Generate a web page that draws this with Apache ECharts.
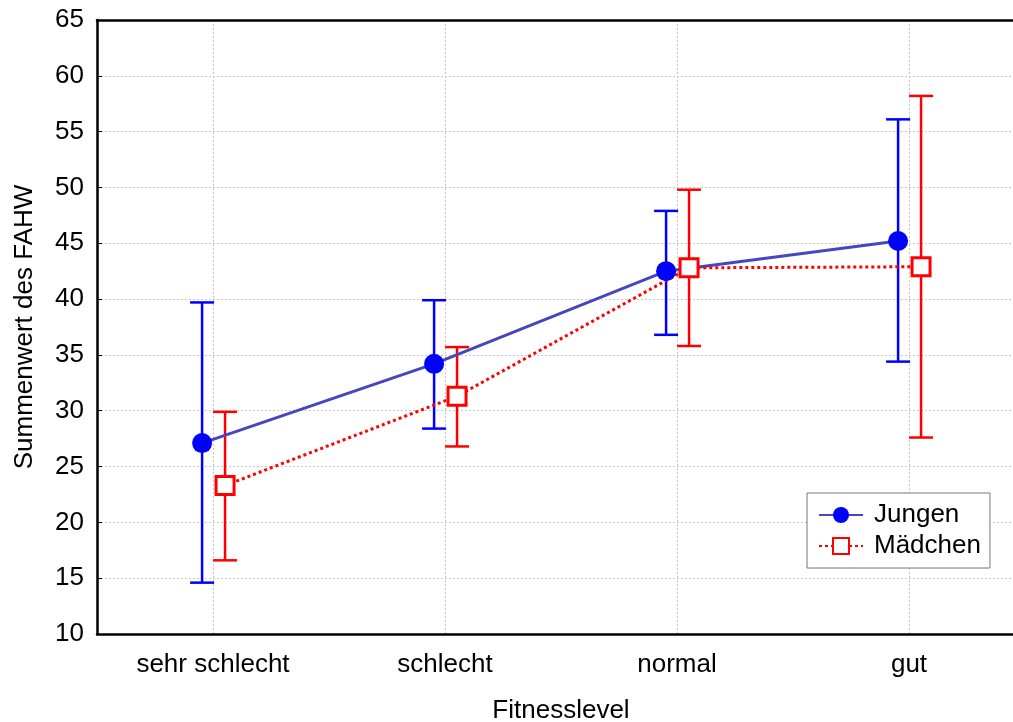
<!DOCTYPE html>
<html>
<head>
<meta charset="utf-8">
<script src="https://cdn.jsdelivr.net/npm/echarts@6/dist/echarts.min.js"></script>
<style>
    html, body { margin: 0; padding: 0; background: #fff; }
    #chart { width: 1013px; height: 722px; }
</style>
</head>
<body>
<div id="chart"></div>
<script>
    // Mittelwerte und Fehlerbalken
    const categories = ['sehr schlecht', 'schlecht', 'normal', 'gut']
    const jungenMean = [27.1, 34.2, 42.5, 45.2]
    const jungenLow = [14.6, 28.4, 36.8, 34.4]
    const jungenHigh = [39.7, 39.9, 47.9, 56.1]
    const maedchenMean = [23.3, 31.3, 42.8, 42.9]
    const maedchenLow = [16.6, 26.8, 35.8, 27.6]
    const maedchenHigh = [29.9, 35.7, 49.8, 58.2]
    const yTicks = [10, 15, 20, 25, 30, 35, 40, 45, 50, 55, 60, 65]

    const font = 'Liberation Sans, Arial, sans-serif'
    const jungenShift = -0.047
    const maedchenShift = 0.052

    function errorBar(color) {
        return function (params, api) {
            const x = api.value(0)
            const lo = api.coord([x, api.value(1)])
            const hi = api.coord([x, api.value(2)])
            const half = 12
            const style = { stroke: color, lineWidth: 2.5 }
            return {
                type: 'group',
                children: [
                    { type: 'line', shape: { x1: lo[0], y1: lo[1], x2: hi[0], y2: hi[1] }, style },
                    { type: 'line', shape: { x1: hi[0] - half, y1: hi[1], x2: hi[0] + half, y2: hi[1] }, style },
                    { type: 'line', shape: { x1: lo[0] - half, y1: lo[1], x2: lo[0] + half, y2: lo[1] }, style }
                ]
            }
        }
    }

    const chart = echarts.init(document.getElementById('chart'))
    chart.setOption({
        animation: false,
        textStyle: { fontFamily: font },
        // plot runs past the right edge of the picture
        grid: { left: 97, top: 20, width: 928, height: 614, outerBoundsMode: 'none' },
        legend: {
            orient: 'vertical',
            left: 807,
            top: 493,
            padding: [9, 9, 9, 11],
            itemGap: 5,
            itemWidth: 44,
            itemHeight: 20,
            borderColor: '#777',
            borderWidth: 1,
            backgroundColor: '#fff',
            textStyle: { fontSize: 26, color: '#000', fontFamily: font, padding: [0, 0, 0, 6] },
            data: ['Jungen', 'Mädchen']
        },
        xAxis: [{
            type: 'category',
            data: categories,
            name: 'Fitnesslevel',
            nameLocation: 'middle',
            nameGap: 64,
            nameTextStyle: { fontSize: 26, color: '#000' },
            axisLine: { lineStyle: { color: '#000', width: 2.5 } },
            axisTick: { inside: true, length: 5, alignWithLabel: true, lineStyle: { color: '#000' } },
            axisLabel: { fontSize: 26, color: '#000', margin: 18 },
            splitLine: {
                show: true,
                alignWithLabel: true,
                lineStyle: { color: '#c8c8c8', type: [2, 2], width: 1 }
            }
        }, {
            type: 'value',
            min: -0.5,
            max: 3.5,
            show: false
        }, {
            type: 'category',
            position: 'top',
            data: categories,
            axisLine: { lineStyle: { color: '#000', width: 2.5 } },
            axisTick: { inside: true, length: 5, alignWithLabel: true, lineStyle: { color: '#000' } },
            axisLabel: { show: false },
            splitLine: { show: false }
        }],
        yAxis: {
            type: 'value',
            min: yTicks[0],
            max: yTicks[yTicks.length - 1],
            interval: 5,
            name: 'Summenwert des FAHW',
            nameLocation: 'middle',
            nameGap: 59,
            nameTextStyle: { fontSize: 26, color: '#000' },
            axisLine: { show: true, onZero: false, lineStyle: { color: '#000', width: 2.5 } },
            axisTick: { show: true, inside: true, length: 5, lineStyle: { color: '#000' } },
            axisLabel: { fontSize: 26, color: '#000', margin: 13 },
            splitLine: { lineStyle: { color: '#c8c8c8', type: [2, 2], width: 1 } }
        },
        series: [{
            name: 'Jungen Fehler',
            type: 'custom',
            xAxisIndex: 1,
            z: 2,
            renderItem: errorBar('#0000ff'),
            data: jungenMean.map((v, i) => [i + jungenShift, jungenLow[i], jungenHigh[i]])
        }, {
            name: 'Mädchen Fehler',
            type: 'custom',
            xAxisIndex: 1,
            z: 2,
            renderItem: errorBar('#ff0000'),
            data: maedchenMean.map((v, i) => [i + maedchenShift, maedchenLow[i], maedchenHigh[i]])
        }, {
            name: 'Jungen',
            type: 'line',
            xAxisIndex: 1,
            z: 3,
            symbol: 'circle',
            symbolSize: 20,
            lineStyle: { color: '#4646c0', width: 3 },
            itemStyle: { color: '#0000ff' },
            data: jungenMean.map((v, i) => [i + jungenShift, v])
        }, {
            name: 'Mädchen',
            type: 'line',
            xAxisIndex: 1,
            z: 3,
            symbol: 'rect',
            symbolSize: 18,
            lineStyle: { color: '#ff0000', width: 3, type: [3, 3] },
            itemStyle: { color: '#fff', borderColor: '#ff0000', borderWidth: 3 },
            data: maedchenMean.map((v, i) => [i + maedchenShift, v])
        }]
    })
</script>
</body>
</html>
